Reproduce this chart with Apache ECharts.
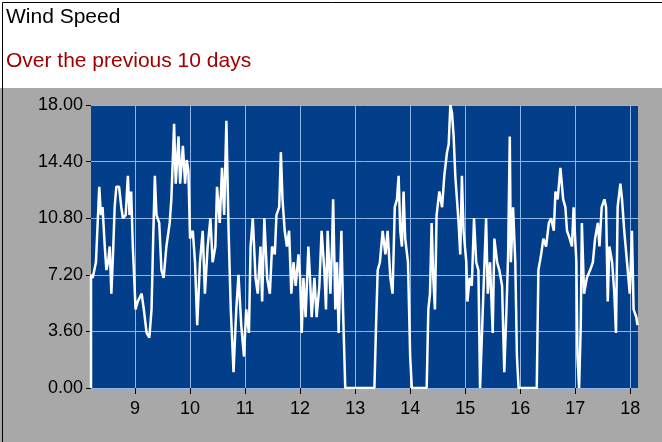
<!DOCTYPE html>
<html><head><meta charset="utf-8">
<script src="https://cdn.jsdelivr.net/npm/echarts@6/dist/echarts.min.js"></script>
<style>html,body{margin:0;padding:0;background:#fff}#c{width:662px;height:442px}</style>
</head><body><div id="c"></div>
<script>
const title = "Wind Speed";
const subtitle = "Over the previous 10 days";
const xTicks = [9,10,11,12,13,14,15,16,17,18];
const yTicks = [0,3.6,7.2,10.8,14.4,18];
const days = [8.20,8.20,8.23,8.29,8.35,8.38,8.41,8.45,8.48,8.51,8.54,8.57,8.60,8.63,8.66,8.71,8.75,8.78,8.83,8.87,8.90,8.93,8.96,9.01,9.05,9.12,9.16,9.21,9.26,9.30,9.33,9.36,9.39,9.44,9.48,9.52,9.57,9.63,9.66,9.71,9.74,9.79,9.82,9.87,9.91,9.94,9.97,10.00,10.05,10.09,10.13,10.18,10.23,10.27,10.32,10.37,10.41,10.46,10.49,10.54,10.58,10.62,10.66,10.70,10.74,10.79,10.84,10.88,10.93,10.98,11.02,11.07,11.10,11.14,11.19,11.23,11.28,11.31,11.35,11.40,11.45,11.49,11.54,11.57,
11.62,11.65,11.68,11.72,11.76,11.80,11.84,11.88,11.92,11.97,12.00,12.03,12.06,12.10,12.15,12.18,12.21,12.26,12.30,12.35,12.39,12.44,12.47,12.50,12.55,12.58,12.60,12.64,12.67,12.70,12.75,12.78,12.82,13.35,13.38,13.41,13.45,13.50,13.55,13.59,13.64,13.68,13.72,13.76,13.79,13.82,13.85,13.88,13.91,13.96,14.00,14.03,14.30,14.33,14.36,14.39,14.42,14.45,14.48,14.53,14.58,14.62,14.67,14.70,14.73,14.76,14.79,14.82,14.85,
14.88,14.91,14.94,14.97,15.02,15.04,15.08,15.12,15.16,15.20,15.24,15.27,15.30,15.33,15.38,15.41,15.45,15.50,15.53,15.58,15.62,15.67,15.71,15.75,15.78,15.81,15.83,15.87,15.91,15.94,15.97,16.30,16.33,16.38,16.42,16.47,16.52,16.56,16.61,16.64,16.68,16.73,16.78,16.82,16.85,16.90,16.94,16.97,17.02,17.04,17.07,17.10,17.12,17.16,17.21,17.27,17.32,17.36,17.41,17.44,17.48,17.53,17.56,17.59,17.62,17.67,17.71,17.74,17.77,17.82,17.85,17.89,17.94,17.99,18.03,18.06,18.11,18.13];
const speeds = [0,7.2,7.0,8,12.8,11,11.5,9,7.5,8.0,9,6,8.5,11.5,12.8,12.8,11.5,10.8,11,13.5,11,12.5,9,5,5.5,6,5,3.5,3.2,5,9.5,13.5,11,10.5,7.5,7,9,10.5,12,16.8,13,16,13,15.4,13,14.5,13.8,9.5,10,8.0,4.0,8,10,6,9,10.8,8,9,12.8,10.5,14,11,17,10,5,1.0,5,7.2,4,2,5,3.5,9,10.8,7,6,9,5.5,10.8,7,6,9,8.5,11,
11.5,15,12,10,9,10,6,8,6.5,8.5,7,3.5,7,4.5,9,7,4.5,7,4.5,6.5,10,7.5,5,10,6,9,12,5,8,3.5,10,5,0,0,4,7.5,8,10,8.5,10,7,6,11.5,12,13.5,10,9,12.5,9.5,8,2,0,0,5,6,10.5,7,5,11,12.5,11.5,13.5,15,15.5,18,17.5,16,13.5,12,
10.5,8.5,13.5,10,8,5.5,7,6.5,10.8,8,7.5,0,0,6,10.8,6,8,3.5,9.5,8,7.5,6.5,1.0,5,8.5,16,8,11.5,8,2,0,0,7.5,8.5,9.5,9,10.5,10.8,10,12.5,12,14,12,11.5,10,9.5,9,11.5,8,2,0,4,10.5,6,7,7.5,8,9.5,10.5,9,11.5,12,11.5,5.5,9,8,6,3.5,11.5,13,12,10,8,6,10,5,4.5,4];
const data = days.map((d,i)=>[d,speeds[i]]);
const chart = echarts.init(document.getElementById('c'));
chart.setOption({
  animation:false,
  backgroundColor:'#fff',
  graphic:[
    {type:'rect',left:0,top:88,shape:{width:662,height:354},style:{fill:'#a8a8a8'},z:-10},
    {type:'rect',left:0,top:0,shape:{width:661,height:441},style:{fill:'none',stroke:'#000',lineWidth:1},z:100},
    {type:'text',left:6,top:7,style:{text:title,font:'21px Arial',fill:'#000'}},
    {type:'text',left:6,top:51,style:{text:subtitle,font:'21px Arial',fill:'#a00000'}}
  ],
  grid:{left:91,top:105,width:547,height:283,show:true,backgroundColor:'#023e8a',borderWidth:0},
  xAxis:{type:'value',min:8.2,max:18.14,
    axisLine:{show:false},
    axisTick:{show:true,inside:false,length:6,lineStyle:{color:'#000'},customValues:xTicks},
    axisLabel:{color:'#000',fontSize:18,fontFamily:'Arial',margin:12,customValues:xTicks},
    splitLine:{show:true,lineStyle:{color:'#8fb4e8',width:1}}},
  yAxis:{type:'value',min:0,max:18,interval:3.6,
    axisLine:{show:false},axisTick:{show:true,length:5,lineStyle:{color:'#000'}},
    axisLabel:{color:'#000',fontSize:18,fontFamily:'Arial',margin:8,formatter:v=>v.toFixed(2)},
    splitLine:{show:true,lineStyle:{color:'#8fb4e8',width:1}}},
  series:[{type:'line',data:data,showSymbol:false,lineStyle:{color:'#fff',width:2.5},itemStyle:{color:'#fff'}}]
});
</script></body></html>
